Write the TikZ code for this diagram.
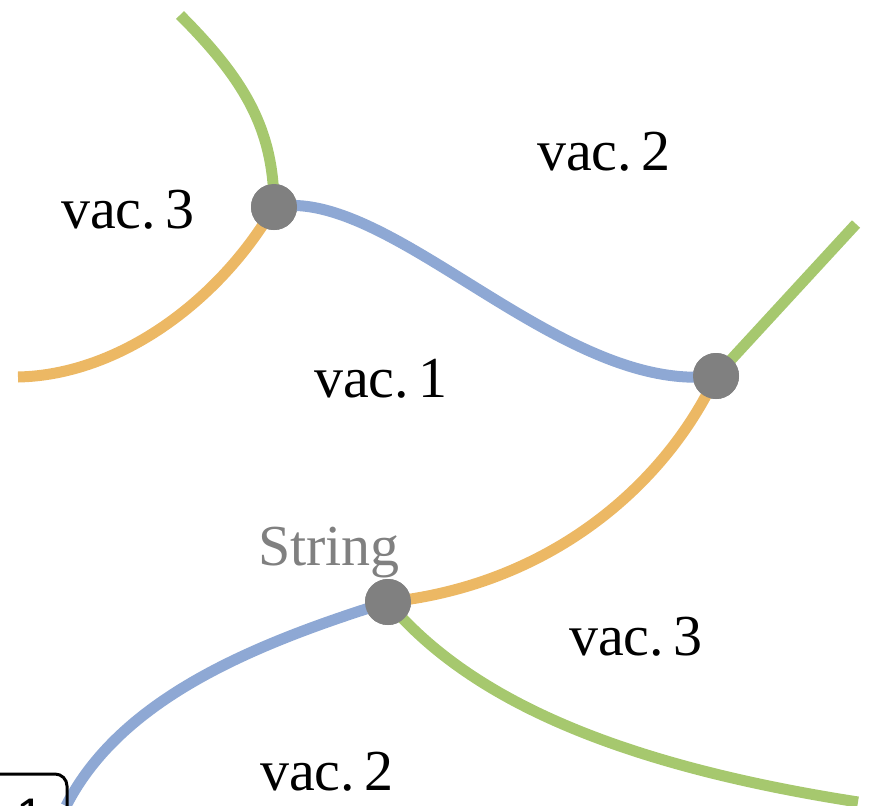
\documentclass[tikz,border=0pt]{standalone}
\usepackage{fontspec}
\setmainfont{Liberation Serif}
\newfontfamily\labelsans{Liberation Sans}
\definecolor{wallgreen}{RGB}{166,200,110}
\definecolor{wallblue}{RGB}{142,168,212}
\definecolor{wallorange}{RGB}{236,184,100}
\definecolor{junction}{RGB}{128,128,128}
\begin{document}
\begin{tikzpicture}[x=1pt,y=-1pt,
  wall/.style={line width=11pt},
  dot/.style={circle,fill=junction,minimum size=46pt,inner sep=0pt},
  vac/.style={anchor=base,font=\fontsize{58}{60}\selectfont},
  strlabel/.style={anchor=base,text=junction,font=\fontsize{58}{60}\selectfont}]
\useasboundingbox (0,0) rectangle (871,806);

% free ends of the domain walls
\coordinate (tg) at (180,15);
\coordinate (lo) at (18,377);
\coordinate (rg) at (856,224);
\coordinate (bb) at (66,806);
\coordinate (bg) at (858,802);

% junctions
\node[dot] (A) at (274,207) {};
\node[dot] (B) at (716,376) {};
\node[dot] (C) at (388,602) {};

% domain walls
\draw[wall,wallgreen] (tg) .. controls (245,80) and (274,130) .. (A.center);
\draw[wall,wallorange] (A.center) .. controls (220,300) and (120,375) .. (lo);
\draw[wall,wallblue] (A.center) .. controls (390,185) and (560,395) .. (B.center);
\draw[wall,wallgreen] (B.center) -- (rg);
\draw[wall,wallorange] (B.center) .. controls (665,485) and (550,585) .. (C.center);
\draw[wall,wallblue] (C.center) .. controls (250,645) and (120,700) .. (bb);
\draw[wall,wallgreen] (C.center) .. controls (470,700) and (620,765) .. (bg);

% junction discs drawn again on top of the walls
\node[dot] at (A) {};
\node[dot] at (B) {};
\node[dot] at (C) {};

% vacuum labels
\node[vac] (v3a) at (128,228) {vac.\,3};
\node[vac] (v2a) at (604,170) {vac.\,2};
\node[vac] (v1)  at (381,397) {vac.\,1};
\node[vac] (v3b) at (636,655) {vac.\,3};
\node[vac] (v2b) at (327,790) {vac.\,2};
\node[strlabel] (str) at (329,565) {String};

% corner tag
\draw[line width=3pt,rounded corners=12pt] (-20,774) rectangle (67,840);
\node[anchor=base,font=\labelsans\fontsize{50}{52}\selectfont] (tag) at (30,833) {1};
\end{tikzpicture}
\end{document}
